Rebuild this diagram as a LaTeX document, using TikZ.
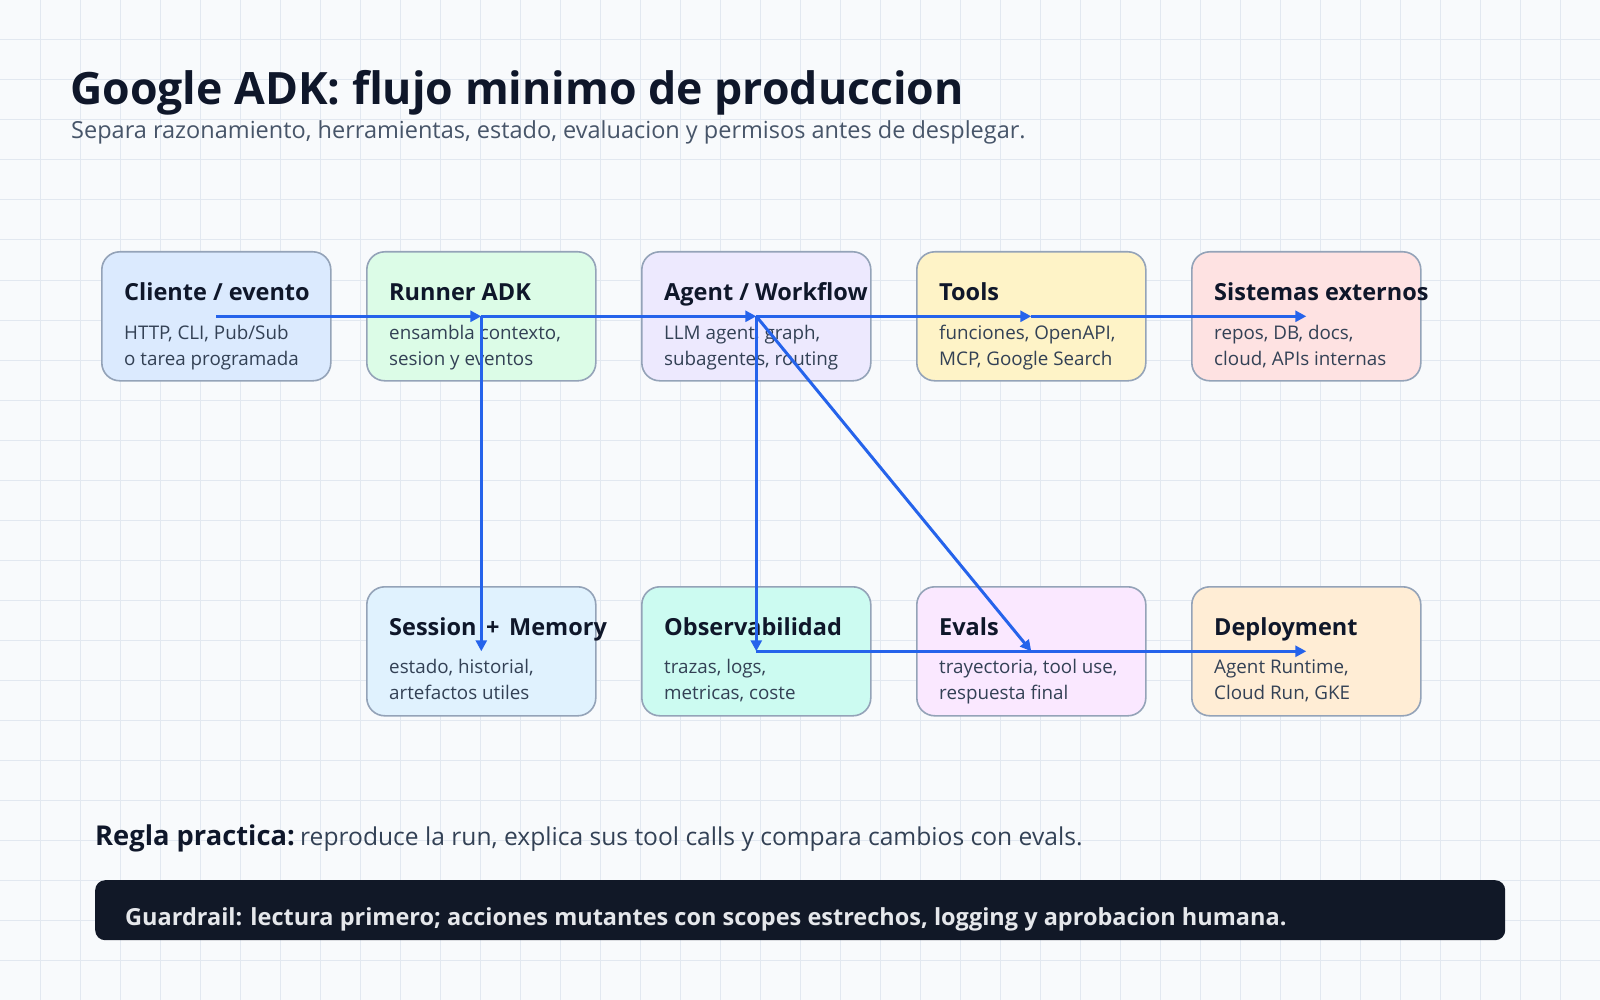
\documentclass[tikz,border=0pt]{standalone}
\usepackage{fontspec}
\setmainfont{Open Sans}
\usetikzlibrary{arrows.meta}
\definecolor{bgc}{HTML}{F8FAFC}
\definecolor{gridc}{HTML}{E2E8F0}
\definecolor{ink}{HTML}{0F172A}
\definecolor{subc}{HTML}{475569}
\definecolor{bodyc}{HTML}{334155}
\definecolor{edgec}{HTML}{94A3B8}
\definecolor{arrc}{HTML}{2563EB}
\definecolor{darkc}{HTML}{111827}
\definecolor{lightc}{HTML}{E5E7EB}
\definecolor{fA}{HTML}{DBEAFE}
\definecolor{fB}{HTML}{DCFCE7}
\definecolor{fC}{HTML}{EDE9FE}
\definecolor{fD}{HTML}{FEF3C7}
\definecolor{fE}{HTML}{FEE2E2}
\definecolor{fF}{HTML}{E0F2FE}
\definecolor{fG}{HTML}{CCFBF1}
\definecolor{fH}{HTML}{FAE8FF}
\definecolor{fI}{HTML}{FFEDD5}
\tikzset{
  box/.style={draw=edgec, line width=1.6pt, rounded corners=18pt, minimum width=229pt, minimum height=129pt, anchor=north west, inner sep=0pt},
  ttl/.style={anchor=base west, inner sep=0pt, text=ink, font=\fontsize{23.5}{28}\selectfont\bfseries},
  bdy/.style={anchor=base west, inner sep=0pt, text=bodyc, font=\fontsize{18.8}{22}\selectfont},
  arr/.style={draw=arrc, line width=3pt, -{Triangle[length=11pt,width=11pt]}},
}
\begin{document}
\begin{tikzpicture}[x=1pt,y=-1pt]
\fill[bgc] (0,0) rectangle (1600,1000);
\useasboundingbox (0,0) rectangle (1600,1000);
\foreach \i in {40,80,...,1560} \draw[gridc, line width=1pt] (\i,0) -- (\i,1000);
\foreach \j in {40,80,...,960} \draw[gridc, line width=1pt] (0,\j) -- (1600,\j);

\node[anchor=base west, inner sep=0pt, text=ink, font=\fontsize{44.6}{52}\selectfont\bfseries] (title) at (70,105) {Google ADK: flujo minimo de produccion};
\node[anchor=base west, inner sep=0pt, text=subc, font=\fontsize{23.5}{28}\selectfont] (sub) at (71,139) {Separa razonamiento, herramientas, estado, evaluacion y permisos antes de desplegar.};

% top row
\node[box, fill=fA] (cli) at (101,251) {};
\node[box, fill=fB] (run) at (366,251) {};
\node[box, fill=fC] (agt) at (641,251) {};
\node[box, fill=fD] (tls) at (916,251) {};
\node[box, fill=fE] (ext) at (1191,251) {};
% bottom row
\node[box, fill=fF] (ses) at (366,586) {};
\node[box, fill=fG] (obs) at (641,586) {};
\node[box, fill=fH] (evl) at (916,586) {};
\node[box, fill=fI] (dep) at (1191,586) {};

\node[ttl] (t1) at (124,300) {Cliente / evento};
\node[bdy] (b1a) at (124,339) {HTTP, CLI, Pub/Sub};
\node[bdy] (b1b) at (124,365) {o tarea programada};

\node[ttl] (t2) at (389,300) {Runner ADK};
\node[bdy] (b2a) at (389,339) {ensambla contexto,};
\node[bdy] (b2b) at (389,365) {sesion y eventos};

\node[ttl] (t3) at (664,300) {Agent / Workflow};
\node[bdy] (b3a) at (664,339) {LLM agent, graph,};
\node[bdy] (b3b) at (664,365) {subagentes, routing};

\node[ttl] (t4) at (939,300) {Tools};
\node[bdy] (b4a) at (939,339) {funciones, OpenAPI,};
\node[bdy] (b4b) at (939,365) {MCP, Google Search};

\node[ttl] (t5) at (1214,300) {Sistemas externos};
\node[bdy] (b5a) at (1214,339) {repos, DB, docs,};
\node[bdy] (b5b) at (1214,365) {cloud, APIs internas};

\node[ttl] (t6) at (389,635) {Session\hspace{3.5pt} +\hspace{3.5pt} Memory};
\node[bdy] (b6a) at (389,673) {estado, historial,};
\node[bdy] (b6b) at (389,699) {artefactos utiles};

\node[ttl] (t7) at (664,635) {Observabilidad};
\node[bdy] (b7a) at (664,673) {trazas, logs,};
\node[bdy] (b7b) at (664,699) {metricas, coste};

\node[ttl] (t8) at (939,635) {Evals};
\node[bdy] (b8a) at (939,673) {trayectoria, tool use,};
\node[bdy] (b8b) at (939,699) {respuesta final};

\node[ttl] (t9) at (1214,635) {Deployment};
\node[bdy] (b9a) at (1214,673) {Agent Runtime,};
\node[bdy] (b9b) at (1214,699) {Cloud Run, GKE};

% connectors
\draw[arr] (cli.center) -- (run.center);
\draw[arr] (run.center) -- (agt.center);
\draw[arr] (agt.center) -- (tls.center);
\draw[arr] (tls.center) -- (ext.center);
\draw[arr] (run.center) -- (ses.center);
\draw[arr] (agt.center) -- (obs.center);
\draw[arr] (agt.center) -- (evl.center);
\draw[arr] (obs.center) -- (dep.center);

% bottom
\node[anchor=base west, inner sep=0pt, text=ink, font=\fontsize{27.3}{32}\selectfont\bfseries] (regla) at (95,845) {Regla practica:};
\node[anchor=base west, inner sep=0pt, text=bodyc, font=\fontsize{24.6}{29}\selectfont] (reglatx) at (300,845) {reproduce la run, explica sus tool calls y compara cambios con evals.};
\node[fill=darkc, rounded corners=10pt, minimum width=1410pt, minimum height=60pt, anchor=north west, inner sep=0pt] (guard) at (95,880) {};
\node[anchor=base west, inner sep=0pt, text=lightc, font=\fontsize{23.5}{28}\selectfont\bfseries] (guardtx) at (125,925) {Guardrail: lectura primero; acciones mutantes con scopes estrechos, logging y aprobacion humana.};
\end{tikzpicture}
\end{document}
